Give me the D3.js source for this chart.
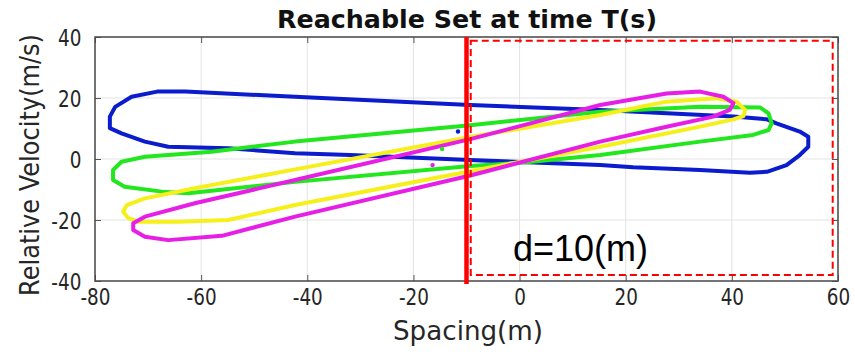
<!DOCTYPE html>
<html>
<head>
<meta charset="utf-8">
<script src="https://cdn.jsdelivr.net/npm/d3@7"></script>
<style>
  html, body { margin: 0; padding: 0; background: #fff; }
  svg { display: block; }
</style>
</head>
<body>
<svg id="chart" width="855" height="354"></svg>
<script>
// ---- data ----
const xTicks = [-80, -60, -40, -20, 0, 20, 40, 60];
const yTicks = [-40, -20, 0, 20, 40];
const bluePoints = [[-68.3,22.1],[-63,22.1],[-42.3,20.4],[-9.3,17.7],[15.2,16.1],[40.3,13.9],[46.6,13.0],[48.4,11.7],[52.8,9.0],[54.4,7.3],[54.4,4.0],[52.8,1.3],[50.3,-2.0],[46.6,-4.2],[43.4,-4.5],[34,-3.6],[21.4,-2.7],[15.2,-2.0],[1.4,-1.1],[-9.3,-0.3],[-31.9,1.3],[-42.3,1.9],[-54.9,3.5],[-66.2,4.0],[-70.6,5.7],[-75,8.4],[-77.2,10.1],[-77.2,13.9],[-76.2,17.1],[-73.1,20.4]];
const greenPoints = [[-70.6,0.75],[-58,2.4],[-42.3,5.7],[-9.3,11.1],[15.2,15.5],[34,17.1],[45.3,16.9],[46.9,15.0],[47.5,11.7],[46.9,9.5],[44,7.9],[34,5.7],[15.2,1.3],[1.4,-1.1],[-9.3,-2.3],[-42.3,-7.5],[-62.4,-11.2],[-67.4,-10.7],[-74.4,-9.1],[-76.6,-6.9],[-76.6,-3.6],[-75,-0.9]];
const yellowPoints = [[-70.6,-12.9],[-61.2,-9.6],[-42.3,-3.4],[-9.3,7.2],[15.2,14.4],[27.7,18.8],[37.1,19.9],[40.9,18.8],[42.5,16.1],[42.2,14.1],[40.3,13.0],[34,10.6],[15.2,4.0],[-9.3,-4.0],[-42.3,-15.1],[-54.9,-20],[-64.3,-20.6],[-71.8,-20.6],[-73.7,-19.4],[-74.7,-17.3],[-74,-15.1]];
const magentaPoints = [[-70.6,-18.9],[-61.2,-14.5],[-42.3,-6.9],[-9.3,6.5],[15.2,17.7],[27.7,21.5],[34,22.1],[38.4,20.4],[40.3,18.3],[39.6,16.1],[36.5,13.9],[27.7,10.6],[15.2,5.7],[-9.3,-5.4],[-42.3,-18.9],[-56.1,-25.2],[-66.2,-26.6],[-70.6,-25.5],[-72.8,-23.3],[-72.8,-21.1]];
const centerDots = [[-11.6, 9.0, "blue"], [-14.6, 3.3, "green"], [-16.4, -2.0, "magenta"]];
const limitX = -10;
const safeBox = { x0: -9.2, x1: 59.0, y0: -38.0, y1: 38.8 };
const titleText = "Reachable Set at time T(s)";
const xLabel = "Spacing(m)";
const yLabel = "Relative Velocity(m/s)";
const annot = "d=10(m)";

// ---- styles ----
const colors = { blue: "#0a1ccc", green: "#22e61e", yellow: "#f5f01c", magenta: "#e61ee6" };
const mainFont = "'DejaVu Sans', sans-serif";

const svg = d3.select("#chart");
const L = 95, R = 838, T = 37, B = 281;
const x = d3.scaleLinear().domain([-80, 60]).range([L, R]);
const y = d3.scaleLinear().domain([-40, 40]).range([B, T]);

// grid
const grid = svg.append("g");
grid.selectAll("line.gx").data(xTicks).join("line")
  .attr("x1", d => x(d)).attr("x2", d => x(d)).attr("y1", T).attr("y2", B)
  .attr("stroke", "#e3e3e3").attr("stroke-width", 1);
grid.selectAll("line.gy").data(yTicks).join("line")
  .attr("y1", d => y(d)).attr("y2", d => y(d)).attr("x1", L).attr("x2", R)
  .attr("stroke", "#e3e3e3").attr("stroke-width", 1);

// axes
const axColor = "#262626";
const tickFont = 23, squeeze = 0.8;
const fmt = d => String(d);
const gx = svg.append("g").attr("transform", `translate(0,${B})`)
  .call(d3.axisBottom(x).tickValues(xTicks).tickFormat(fmt).tickSizeInner(-6).tickSizeOuter(0).tickPadding(8));
const gy = svg.append("g").attr("transform", `translate(${L},0)`)
  .call(d3.axisLeft(y).tickValues(yTicks).tickFormat(fmt).tickSizeInner(-6).tickSizeOuter(0).tickPadding(17));
const gt = svg.append("g").attr("transform", `translate(0,${T})`)
  .call(d3.axisTop(x).tickValues(xTicks).tickSizeInner(-6).tickSizeOuter(0).tickFormat(""));
const gr = svg.append("g").attr("transform", `translate(${R},0)`)
  .call(d3.axisRight(y).tickValues(yTicks).tickSizeInner(-6).tickSizeOuter(0).tickFormat(""));
[gx, gy, gt, gr].forEach(g => {
  g.attr("font-family", null).attr("font-size", null);
  g.select(".domain").remove();
  g.selectAll(".tick line").attr("stroke", "#555").attr("stroke-width", 1);
  g.selectAll("text").style("font-family", mainFont).style("font-size", tickFont + "px").attr("fill", axColor)
    .attr("transform", `scale(${squeeze},1)`);
});
gy.selectAll("text").attr("dy", "0.35em");

// polygons
const line = d3.line().x(d => x(d[0])).y(d => y(d[1])).curve(d3.curveLinearClosed);
const series = [[bluePoints, "blue"], [greenPoints, "green"], [yellowPoints, "yellow"], [magentaPoints, "magenta"]];
svg.append("g").selectAll("path").data(series).join("path")
  .attr("d", d => line(d[0]))
  .attr("fill", "none").attr("stroke", d => colors[d[1]])
  .attr("stroke-width", 4).attr("stroke-linejoin", "round");

svg.append("g").selectAll("circle").data(centerDots).join("circle")
  .attr("cx", d => x(d[0])).attr("cy", d => y(d[1])).attr("r", 2.2)
  .attr("fill", d => colors[d[2]]);

// box
svg.append("rect").attr("x", L).attr("y", T).attr("width", R - L).attr("height", B - T)
  .attr("fill", "none").attr("stroke", "#4a4a4a").attr("stroke-width", 1.5);

// dashed safe region
svg.append("rect")
  .attr("x", x(safeBox.x0)).attr("y", y(safeBox.y1))
  .attr("width", x(safeBox.x1) - x(safeBox.x0)).attr("height", y(safeBox.y0) - y(safeBox.y1))
  .attr("fill", "none").attr("stroke", "#ff0000").attr("stroke-width", 2).attr("stroke-dasharray", "7,4");

// red limit line
svg.append("line").attr("x1", x(limitX)).attr("x2", x(limitX)).attr("y1", y(40)).attr("y2", y(-41))
  .attr("stroke", "#ff0000").attr("stroke-width", 4.5);

// texts
svg.append("text").attr("x", 467).attr("y", 28)
  .attr("text-anchor", "middle").style("font-family", mainFont).style("font-size", "25px")
  .attr("font-weight", "bold").attr("fill", "#111")
  .attr("textLength", 380).attr("lengthAdjust", "spacingAndGlyphs")
  .text(titleText);
svg.append("text").attr("x", 468).attr("y", 340)
  .attr("text-anchor", "middle").style("font-family", mainFont).style("font-size", "26px").attr("fill", axColor)
  .attr("textLength", 150).attr("lengthAdjust", "spacingAndGlyphs").text(xLabel);
svg.append("text")
  .attr("transform", `translate(39,165) rotate(-90)`)
  .attr("text-anchor", "middle").style("font-family", mainFont).style("font-size", "26px").attr("fill", axColor)
  .attr("textLength", 262).attr("lengthAdjust", "spacingAndGlyphs").text(yLabel);
svg.append("text").attr("x", 513).attr("y", 261)
  .style("font-family", "'Liberation Sans', Arial, sans-serif").style("font-size", "36px").attr("fill", "#000")
  .text(annot);
</script>
</body>
</html>
